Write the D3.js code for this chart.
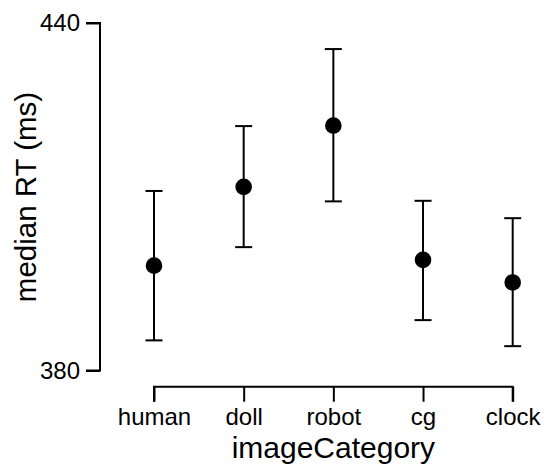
<!DOCTYPE html>
<html>
<head>
<meta charset="utf-8">
<script src="https://cdn.jsdelivr.net/npm/d3@7"></script>
<style>
  html, body { margin: 0; padding: 0; background: #fff; }
  svg { display: block; }
  text { font-family: "Liberation Sans", Arial, sans-serif; fill: #000; }
</style>
</head>
<body>
<svg id="chart" width="544" height="465"></svg>
<script>
const categories = ["human", "doll", "robot", "cg", "clock"];
const medianRT   = [398.1, 411.7, 422.3, 399.1, 395.2];
const upperCI    = [411.0, 422.2, 435.5, 409.3, 406.3];
const lowerCI    = [385.2, 401.3, 409.2, 388.7, 384.2];
const yTicks     = [380, 440];

const data = categories.map((c, i) => ({ cat: c, y: medianRT[i], hi: upperCI[i], lo: lowerCI[i] }));

const svg = d3.select("#chart");

const x = d3.scalePoint().domain(categories).range([154, 512.7]);
const y = d3.scaleLinear().domain([380, 440]).range([370.5, 23]);

// Y axis (R-style, only spanning the ticks)
const yAxisX = 100;
const yAxis = d3.axisLeft(y).tickValues(yTicks).tickSize(14).tickPadding(6).tickFormat(d3.format("d"));
const gy = svg.append("g").attr("transform", `translate(${yAxisX},0)`).call(yAxis);
gy.select(".domain").attr("d", `M-14,${y(440)}H0V${y(380)}H-14`).attr("stroke", "#000").attr("stroke-width", 2).attr("fill", "none");
gy.selectAll(".tick line").attr("stroke", "#000").attr("stroke-width", 2);
gy.selectAll(".tick text").attr("font-size", 24).attr("font-family", "Liberation Sans, Arial, sans-serif").attr("fill", "#000");

// X axis
const xAxisY = 386.7;
const xAxis = d3.axisBottom(x).tickSize(15).tickPadding(6);
const gx = svg.append("g").attr("transform", `translate(0,${xAxisY})`).call(xAxis);
gx.select(".domain").attr("d", `M${x(categories[0])},15V0H${x(categories[categories.length-1])}V15`).attr("stroke", "#000").attr("stroke-width", 2).attr("fill", "none");
gx.selectAll(".tick line").attr("stroke", "#000").attr("stroke-width", 2);
gx.selectAll(".tick text").attr("font-size", 24).attr("font-family", "Liberation Sans, Arial, sans-serif").attr("fill", "#000");

// Error bars
const capHalf = 8.5;
const eb = svg.append("g").selectAll("g").data(data).join("g");
eb.append("line")
  .attr("x1", d => x(d.cat)).attr("x2", d => x(d.cat))
  .attr("y1", d => y(d.hi)).attr("y2", d => y(d.lo))
  .attr("stroke", "#000").attr("stroke-width", 2);
eb.append("line")
  .attr("x1", d => x(d.cat) - capHalf).attr("x2", d => x(d.cat) + capHalf)
  .attr("y1", d => y(d.hi)).attr("y2", d => y(d.hi))
  .attr("stroke", "#000").attr("stroke-width", 2);
eb.append("line")
  .attr("x1", d => x(d.cat) - capHalf).attr("x2", d => x(d.cat) + capHalf)
  .attr("y1", d => y(d.lo)).attr("y2", d => y(d.lo))
  .attr("stroke", "#000").attr("stroke-width", 2);
eb.append("circle")
  .attr("cx", d => x(d.cat)).attr("cy", d => y(d.y)).attr("r", 8.3)
  .attr("fill", "#000");

// Axis titles
svg.append("text")
  .attr("x", (x(categories[0]) + x(categories[categories.length-1])) / 2)
  .attr("y", 458)
  .attr("text-anchor", "middle")
  .attr("font-size", 30)
  .text("imageCategory");

svg.append("text")
  .attr("transform", "translate(36,197) rotate(-90)")
  .attr("text-anchor", "middle")
  .attr("font-size", 29.5)
  .text("median RT (ms)");
</script>
</body>
</html>
